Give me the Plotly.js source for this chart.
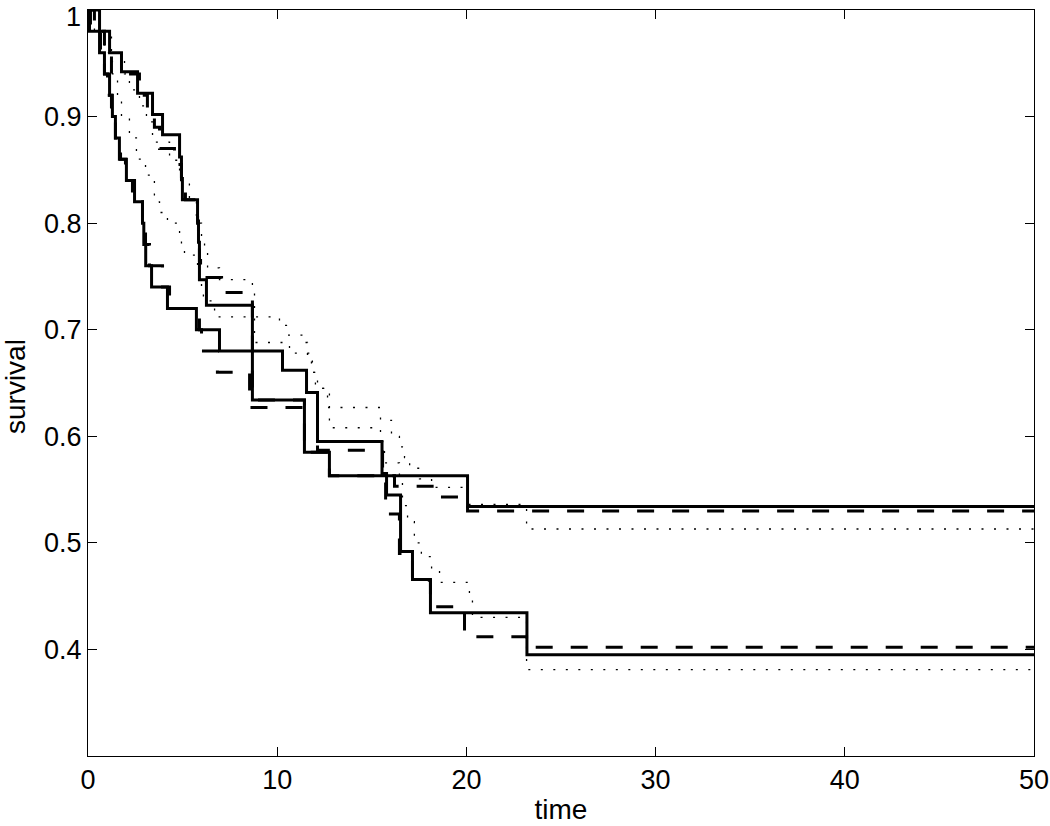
<!DOCTYPE html>
<html>
<head>
<meta charset="utf-8">
<script src="https://cdn.plot.ly/plotly-3.0.1.min.js"></script>
<style>html,body{margin:0;padding:0;background:#fff;}#chart{width:1050px;height:826px;}</style>
</head>
<body>
<div id="chart"></div>
<script>
// Group A (upper, plateau ~0.53) and group B (lower, plateau ~0.39)
const groupA_solid_t = [0, 0.61, 1.14, 1.77, 2.62, 3.41, 3.94, 4.84, 4.94, 4.99, 5.79, 5.84, 5.89, 6.26, 8.69, 11.44, 12.76, 20.06, 50];
const groupA_solid_v = [1, 0.98, 0.96, 0.942, 0.922, 0.902, 0.883, 0.862, 0.842, 0.822, 0.802, 0.782, 0.747, 0.723, 0.634, 0.585, 0.563, 0.534, 0.534];

const groupB_solid_t = [0, 0.08, 0.61, 0.87, 1.14, 1.29, 1.45, 1.66, 2.03, 2.46, 2.88, 2.95, 3.05, 3.36, 4.20, 5.73, 6.95, 10.28, 11.55, 12.13, 15.54, 15.78, 16.52, 17.15, 18.10, 23.20, 50];
const groupB_solid_v = [1, 0.98, 0.96, 0.94, 0.92, 0.90, 0.88, 0.86, 0.84, 0.82, 0.80, 0.78, 0.76, 0.74, 0.72, 0.70, 0.68, 0.662, 0.641, 0.595, 0.565, 0.545, 0.492, 0.4655, 0.4345, 0.395, 0.395];

const groupA_dashed_t = [0, 0.34, 0.87, 1.24, 2.72, 3.14, 3.51, 3.78, 4.57, 4.94, 5.15, 5.79, 5.84, 5.89, 5.95, 7.06, 8.69, 11.44, 12.76, 16.20, 18.32, 20.06, 50];
const groupA_dashed_v = [1, 0.98, 0.96, 0.94, 0.92, 0.905, 0.89, 0.87, 0.855, 0.84, 0.822, 0.80, 0.78, 0.765, 0.749, 0.735, 0.634, 0.585, 0.563, 0.553, 0.543, 0.530, 0.530];

const groupB_dashed_t = [0, 0.13, 0.66, 0.87, 1.03, 1.24, 1.45, 1.72, 1.98, 2.35, 2.88, 3.04, 3.25, 3.94, 4.31, 5.89, 6.00, 6.84, 8.54, 12.13, 15.57, 15.73, 16.46, 17.15, 18.10, 19.90, 23.18, 50];
const groupB_dashed_v = [1, 0.98, 0.96, 0.94, 0.92, 0.90, 0.88, 0.86, 0.84, 0.82, 0.80, 0.78, 0.76, 0.74, 0.72, 0.70, 0.68, 0.66, 0.627, 0.587, 0.56, 0.527, 0.49, 0.465, 0.44, 0.412, 0.402, 0.402];

const groupA_dotted_t = [0, 0.34, 0.87, 1.29, 1.56, 1.77, 2.19, 2.56, 3.04, 3.51, 3.78, 4.20, 4.84, 4.94, 5.10, 5.79, 5.89, 6.00, 6.10, 6.69, 10.12, 10.49, 11.49, 11.60, 11.86, 12.02, 12.66, 15.46, 16.04, 16.46, 16.73, 17.00, 17.52, 18.16, 20.06, 23.18, 50];
const groupA_dotted_v = [1, 0.98, 0.96, 0.94, 0.92, 0.90, 0.88, 0.86, 0.845, 0.82, 0.81, 0.80, 0.79, 0.78, 0.77, 0.757, 0.747, 0.737, 0.727, 0.712, 0.704, 0.695, 0.688, 0.677, 0.66, 0.645, 0.627, 0.615, 0.60, 0.59, 0.58, 0.57, 0.56, 0.552, 0.536, 0.513, 0.513];

const groupB_dotted_t = [0, 0.61, 1.24, 1.93, 2.19, 2.72, 3.09, 3.41, 4.31, 4.84, 5.36, 5.73, 6.00, 6.16, 6.32, 6.95, 8.69, 8.80, 10.65, 11.81, 12.13, 12.76, 15.46, 15.67, 16.46, 16.62, 16.89, 17.25, 17.62, 18.16, 18.58, 20.16, 20.32, 23.18, 50];
const groupB_dotted_v = [1, 0.98, 0.96, 0.94, 0.925, 0.91, 0.895, 0.876, 0.859, 0.84, 0.82, 0.80, 0.785, 0.777, 0.758, 0.747, 0.735, 0.688, 0.678, 0.66, 0.645, 0.608, 0.595, 0.575, 0.56, 0.535, 0.52, 0.50, 0.487, 0.475, 0.463, 0.449, 0.43, 0.381, 0.381];

const xTicks = [0, 10, 20, 30, 40, 50];
const xTickText = ['0', '10', '20', '30', '40', '50'];
const yTicks = [0.4, 0.5, 0.6, 0.7, 0.8, 0.9, 1.0];
const yTickText = ['0.4', '0.5', '0.6', '0.7', '0.8', '0.9', ''];
const topTickLabel = '1';
const xTitle = 'time';
const yTitle = 'survival';

const dottedStyle = {color: '#000', width: 1.3, dash: '2px,10.5px', shape: 'hv'};
const dashedStyle = {color: '#000', width: 3, dash: '17px,18px', shape: 'hv'};
const solidStyle = {color: '#000', width: 3, shape: 'hv'};

const mk = (x, y, line) => ({x: x, y: y, type: 'scatter', mode: 'lines', line: line, hoverinfo: 'skip', showlegend: false});

const traces = [
  mk(groupA_dotted_t, groupA_dotted_v, dottedStyle),
  mk(groupB_dotted_t, groupB_dotted_v, dottedStyle),
  mk(groupA_dashed_t, groupA_dashed_v, dashedStyle),
  mk(groupB_dashed_t, groupB_dashed_v, dashedStyle),
  mk(groupA_solid_t, groupA_solid_v, solidStyle),
  mk(groupB_solid_t, groupB_solid_v, solidStyle)
];

const fontFam = 'Liberation Sans, Arial, Helvetica, sans-serif';
const axisCommon = {
  showline: true, linecolor: '#000', linewidth: 1, mirror: 'allticks',
  ticks: 'inside', ticklen: 9, tickwidth: 1, tickcolor: '#000',
  showgrid: false, zeroline: false,
  tickfont: {family: fontFam, size: 27, color: '#000'},
  fixedrange: true
};

const layout = {
  width: 1050, height: 826,
  margin: {l: 88, r: 16, t: 10, b: 70},
  paper_bgcolor: '#fff', plot_bgcolor: '#fff',
  xaxis: Object.assign({}, axisCommon, {
    range: [0, 50], tickmode: 'array', tickvals: xTicks, ticktext: xTickText,
    title: {text: xTitle, font: {family: fontFam, size: 28, color: '#000'}, standoff: 4}
  }),
  yaxis: Object.assign({}, axisCommon, {
    range: [0.3, 1], tickmode: 'array', tickvals: yTicks, ticktext: yTickText
  }),
  annotations: [{
    text: topTickLabel, xref: 'paper', x: 0, xanchor: 'right', xshift: -6,
    yref: 'y', y: yTicks[yTicks.length - 1], yanchor: 'top', yshift: 9,
    showarrow: false, borderpad: 0, font: {family: fontFam, size: 27, color: '#000'}
  }, {
    text: yTitle, textangle: -90, xref: 'paper', x: 0, xanchor: 'center', xshift: -73,
    yref: 'paper', y: 0.5, yanchor: 'middle', yshift: -4,
    showarrow: false, borderpad: 0, font: {family: fontFam, size: 28, color: '#000'}
  }]
};

Plotly.newPlot('chart', traces, layout, {displayModeBar: false, staticPlot: true});
</script>
</body>
</html>
